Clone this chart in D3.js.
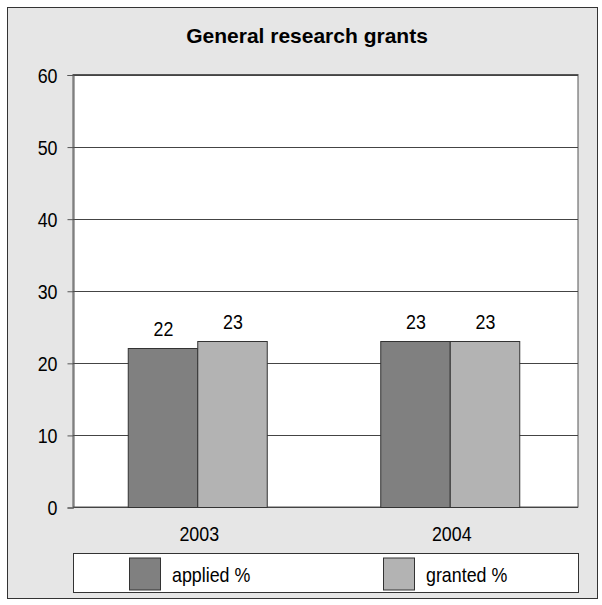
<!DOCTYPE html>
<html>
<head>
<meta charset="utf-8">
<script src="https://cdn.jsdelivr.net/npm/d3@7"></script>
<style>
  html, body { margin: 0; padding: 0; background: #ffffff; }
  svg { display: block; }
  text { font-family: "Liberation Sans", Arial, Helvetica, sans-serif; fill: #000; }
</style>
</head>
<body>
<svg id="chart" width="602" height="605"></svg>
<script>
// Chart data
const title = "General research grants";
const years = ["2003", "2004"];
const seriesNames = ["applied %", "granted %"];
const applied = [22, 23];
const granted = [23, 23];
const yTicks = [0, 10, 20, 30, 40, 50, 60];
const seriesColors = ["#808080", "#b3b3b3"];

const svg = d3.select("#chart");
const NARROW = 0.85;   // horizontal squeeze for the condensed labels
const FS = 21;

// Place a condensed text at (x, y)
function narrowText(sel, x, y) {
  return sel.attr("x", 0).attr("y", 0)
    .attr("transform", `translate(${x},${y}) scale(${NARROW},1)`)
    .attr("font-size", FS);
}

// Frame
svg.append("rect").attr("x", 7.5).attr("y", 7.5).attr("width", 590).attr("height", 591)
  .attr("fill", "#e6e6e6").attr("stroke", "#333").attr("stroke-width", 1);

const plot = { left: 73, right: 578, top: 74.5, bottom: 507 };

const x0 = d3.scaleBand().domain(years).range([plot.left, plot.right]);
const x1 = d3.scaleBand().domain(seriesNames).range([0, 139]);
const y = d3.scaleLinear().domain([0, 60]).range([plot.bottom, plot.top]);

// Plot background
svg.append("rect").attr("x", plot.left).attr("y", plot.top)
  .attr("width", plot.right - plot.left).attr("height", plot.bottom - plot.top)
  .attr("fill", "#fff").attr("stroke", "#555").attr("stroke-width", 1);

// Gridlines
svg.append("g").selectAll("line").data(yTicks).join("line")
  .attr("x1", plot.left).attr("x2", plot.right)
  .attr("y1", d => Math.round(y(d)) + 0.5).attr("y2", d => Math.round(y(d)) + 0.5)
  .attr("stroke", "#444").attr("stroke-width", 1);

// Y axis
const yAxis = d3.axisLeft(y).tickValues(yTicks).tickSize(6).tickFormat(d3.format("d"));
const gy = svg.append("g").attr("transform", `translate(${plot.left + 0.5},0.5)`).call(yAxis);
gy.select(".domain").attr("stroke", "#555");
gy.selectAll(".tick line").attr("stroke", "#555");
gy.selectAll(".tick text").each(function () {
  narrowText(d3.select(this), -16, 0).attr("dy", "0.35em").style("fill", "#000");
});

// Bars
const rows = years.map((yr, i) => ({ year: yr, values: [applied[i], granted[i]] }));
const groups = svg.append("g").selectAll("g").data(rows).join("g")
  .attr("transform", d => `translate(${x0(d.year) + x0.bandwidth() / 2 - 71.5},0)`);

groups.selectAll("rect").data(d => d.values.map((v, j) => ({ name: seriesNames[j], value: v, j })))
  .join("rect")
  .attr("x", d => x1(d.name) + 0.5)
  .attr("y", d => Math.round(y(d.value)) + 0.5)
  .attr("width", x1.bandwidth())
  .attr("height", d => plot.bottom - Math.round(y(d.value)))
  .attr("fill", d => seriesColors[d.j])
  .attr("stroke", "#333").attr("stroke-width", 1);

groups.selectAll("text.val").data(d => d.values.map((v, j) => ({ name: seriesNames[j], value: v })))
  .join("text").attr("class", "val")
  .each(function (d) {
    narrowText(d3.select(this), x1(d.name) + x1.bandwidth() / 2 + 1, y(d.value) - 12);
  })
  .attr("text-anchor", "middle")
  .text(d => d.value);

// X category labels
const xAxis = d3.axisBottom(x0).tickSize(0);
const gx = svg.append("g").attr("transform", `translate(0,${plot.bottom})`).call(xAxis);
gx.select(".domain").remove();
gx.selectAll(".tick text").each(function () {
  narrowText(d3.select(this), 0, 34).attr("dy", null).style("fill", "#000");
});

// Title
svg.append("text").attr("x", 307).attr("y", 43).attr("text-anchor", "middle")
  .attr("font-size", 21).attr("font-weight", "bold").text(title);

// Legend
const legend = { x: 73.5, y: 553.5, w: 505, h: 39 };
svg.append("rect").attr("x", legend.x).attr("y", legend.y).attr("width", legend.w).attr("height", legend.h)
  .attr("fill", "#fff").attr("stroke", "#333").attr("stroke-width", 1);
const legendX = d3.scaleOrdinal().domain(seriesNames).range([129, 383]);
const li = svg.append("g").selectAll("g").data(seriesNames).join("g")
  .attr("transform", d => `translate(${legendX(d)},${legend.y + 4})`);
li.append("rect").attr("x", 0.5).attr("y", 0.5).attr("width", 31).attr("height", 32)
  .attr("fill", (d, i) => seriesColors[i]).attr("stroke", "#333").attr("stroke-width", 1);
li.append("text").each(function () { narrowText(d3.select(this), 43, 24); }).text(d => d);
</script>
</body>
</html>
